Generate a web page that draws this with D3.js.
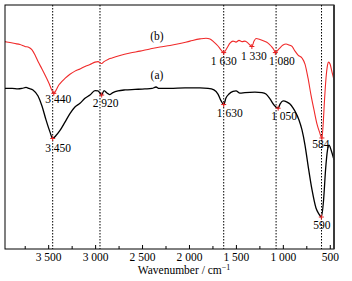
<!DOCTYPE html>
<html>
<head>
<meta charset="utf-8">
<script src="https://cdn.jsdelivr.net/npm/d3@7"></script>
<style>
  body { margin: 0; background: #fff; }
  text { font-family: "Liberation Serif", "Times New Roman", serif; }
</style>
</head>
<body>
<div id="chart"></div>
<script>
// Curve (a): wavenumber (cm-1) and relative transmittance
var wnA = [3960, 3885, 3822, 3779, 3736, 3704, 3662, 3608, 3566, 3523, 3481, 3452, 3417, 3374, 3321, 3268,
    3215, 3161, 3108, 3055, 3001, 2969, 2930, 2905, 2873, 2847, 2810, 2756, 2682, 2575, 2469, 2394, 2351,
    2319, 2202, 2042, 1883, 1797, 1734, 1691, 1659, 1630, 1606, 1574, 1531, 1499, 1457, 1404, 1297, 1222,
    1180, 1137, 1094, 1050, 1030, 998, 955, 924, 892, 860, 828, 796, 764, 732, 689, 647, 615, 590, 566,
    545, 524, 508, 486, 455];
var tA = [65.8, 65.8, 65.6, 65.8, 66.2, 65.8, 65.2, 62.7, 58.6, 52.9, 48.0, 45.3, 46.5, 48.6, 52.0, 55.5,
    58.2, 59.7, 61.8, 63.1, 64.9, 64.8, 63.1, 64.9, 63.9, 63.3, 64.1, 64.8, 65.2, 65.4, 65.6, 65.8, 66.4,
    65.8, 65.8, 66.0, 66.0, 65.8, 65.2, 63.5, 60.8, 59.2, 61.9, 63.5, 64.6, 64.8, 63.9, 64.1, 64.3, 64.1,
    63.5, 61.5, 59.0, 57.7, 59.4, 60.7, 60.2, 59.4, 57.8, 55.7, 52.9, 48.8, 42.6, 34.4, 24.2, 16.8, 14.3,
    13.1, 20.1, 32.4, 40.6, 42.6, 40.6, 36.5];

// Curve (b)
var wnB = [3960, 3907, 3853, 3800, 3747, 3704, 3672, 3640, 3608, 3566, 3523, 3488, 3466, 3440, 3417, 3390,
    3374, 3321, 3268, 3215, 3161, 3108, 3055, 3001, 2969, 2930, 2905, 2863, 2820, 2735, 2628, 2522, 2415,
    2309, 2202, 2096, 1989, 1883, 1819, 1776, 1734, 1691, 1659, 1630, 1595, 1563, 1531, 1499, 1467, 1435,
    1404, 1371, 1350, 1330, 1307, 1286, 1244, 1201, 1158, 1126, 1094, 1080, 1041, 998, 966, 934, 902, 870,
    838, 796, 764, 732, 700, 668, 636, 610, 584, 571, 556, 540, 524, 513, 497, 476, 455];
var tB = [85.0, 84.6, 84.2, 83.8, 83.0, 82.6, 81.6, 79.5, 76.8, 73.8, 70.5, 67.6, 65.5, 63.8, 65.0, 67.0,
    67.8, 69.9, 71.6, 72.9, 73.8, 74.8, 75.6, 76.6, 76.8, 76.0, 76.8, 77.7, 78.3, 79.3, 80.3, 81.1, 82.0,
    82.8, 83.4, 84.2, 85.2, 86.1, 86.4, 86.1, 84.8, 83.2, 81.6, 80.5, 82.4, 84.4, 85.2, 84.8, 85.5, 85.0,
    85.2, 84.4, 83.6, 83.0, 85.2, 86.3, 85.9, 85.2, 84.4, 83.2, 81.6, 80.5, 82.0, 83.6, 84.0, 83.6, 83.0,
    81.1, 79.5, 78.3, 75.8, 70.1, 63.1, 57.0, 51.2, 48.0, 45.5, 50.8, 61.1, 70.1, 75.4, 76.6, 75.8, 72.5,
    69.3];

// Marked peaks
var peakWnA = [3452, 2930, 1630, 1050, 590];
var peakLabelA = ["3 450", "2 920", "1 630", "1 050", "590"];
var peakWnB = [3440, 1630, 1330, 1080, 584];
var peakLabelB = ["3 440", "1 630", "1 330", "1 080", "584"];

// Dotted reference lines and axis ticks
var guideWn = [3452, 2948, 1630, 1072, 588];
var majorTicks = [3500, 3000, 2500, 2000, 1500, 1000, 500];
var minorTicks = [3750, 3250, 2750, 2250, 1750, 1250, 750];

// Plot box
var W = 352, H = 281;
var box = { left: 5, right: 334, top: 5, bottom: 249 };
var fontSize = "11.5px";

var svg = d3.select("#chart").append("svg")
    .attr("width", W)
    .attr("height", H);

var x = d3.scaleLinear().domain([3960, 455]).range([box.left, box.right]);
var y = d3.scaleLinear().domain([0, 100]).range([box.bottom, box.top]);

// Dotted guide lines
svg.selectAll(".guide")
    .data(guideWn)
    .enter().append("line")
    .attr("x1", d => x(d)).attr("x2", d => x(d))
    .attr("y1", box.top).attr("y2", box.bottom)
    .style("stroke", "#000")
    .style("stroke-width", 1)
    .style("stroke-dasharray", "1.5,1.5");

// Curves
var line = d3.line().x(d => x(d[0])).y(d => y(d[1])).curve(d3.curveMonotoneX);

svg.append("path")
    .datum(d3.zip(wnB, tB))
    .attr("d", line)
    .style("fill", "none")
    .style("stroke", "#f02a2a")
    .style("stroke-width", 1.1);

svg.append("path")
    .datum(d3.zip(wnA, tA))
    .attr("d", line)
    .style("fill", "none")
    .style("stroke", "#000")
    .style("stroke-width", 1.3);

// Peak markers and labels
function interp(wn, t, v) {
    for (var i = 0; i < wn.length - 1; i++) {
        if (v <= wn[i] && v >= wn[i + 1]) {
            var f = (wn[i] - v) / (wn[i] - wn[i + 1]);
            return t[i] + f * (t[i + 1] - t[i]);
        }
    }
    return t[t.length - 1];
}

// label offsets from the marker (px)
var offA = [[5.5, 13.5], [4, 11.5], [6, 12.5], [6, 12], [0.5, 12]];
var offB = [[4.5, 10], [0, 12.5], [2, 13.5], [6.5, 12], [-1, 10.5]];

function drawPeaks(wn, t, peaks, labels, off) {
    peaks.forEach(function (p, i) {
        var px = x(p), py = y(interp(wn, t, p));
        svg.append("path")
            .attr("d", "M" + (px - 2.5) + "," + py + "h5M" + px + "," + (py - 2.5) + "v5")
            .style("stroke", "#e82020")
            .style("stroke-width", 1);
        svg.append("text")
            .attr("x", px + off[i][0])
            .attr("y", py + off[i][1])
            .attr("text-anchor", "middle")
            .style("font-size", fontSize)
            .style("fill", "#000")
            .text(labels[i]);
    });
}
drawPeaks(wnA, tA, peakWnA, peakLabelA, offA);
drawPeaks(wnB, tB, peakWnB, peakLabelB, offB);

// Series names
svg.append("text").attr("x", 157).attr("y", 40).attr("text-anchor", "middle")
    .style("font-size", fontSize).text("(b)");
svg.append("text").attr("x", 157).attr("y", 79).attr("text-anchor", "middle")
    .style("font-size", fontSize).text("(a)");

// Frame
svg.append("rect")
    .attr("x", box.left).attr("y", box.top)
    .attr("width", box.right - box.left).attr("height", box.bottom - box.top)
    .style("fill", "none")
    .style("stroke", "#000")
    .style("stroke-width", 1);
svg.append("line")
    .attr("x1", box.right).attr("x2", box.right).attr("y1", box.top).attr("y2", box.bottom)
    .style("stroke", "#333").style("stroke-width", 1.8);

// Axes
var fmt = d => d3.format(",")(d).replace(",", " ");
var gx = svg.append("g")
    .attr("transform", "translate(0," + box.bottom + ")")
    .call(d3.axisBottom(x).tickValues(majorTicks).tickSizeInner(-4).tickSizeOuter(0)
        .tickPadding(4).tickFormat(fmt));
gx.select(".domain").remove();
gx.selectAll("text").style("font-size", fontSize).style("font-family", "Liberation Serif").style("fill", "#000");

var gm = svg.append("g")
    .attr("transform", "translate(0," + box.bottom + ")")
    .call(d3.axisBottom(x).tickValues(minorTicks).tickSizeInner(-3).tickSizeOuter(0).tickFormat(""));
gm.select(".domain").remove();

// Axis title
var title = svg.append("text")
    .attr("x", 184).attr("y", 274)
    .attr("text-anchor", "middle")
    .style("font-size", fontSize)
    .style("fill", "#000")
    .text("Wavenumber / cm");
title.append("tspan").attr("dy", -4).style("font-size", "8px").text("\u22121");
</script>
</body>
</html>
